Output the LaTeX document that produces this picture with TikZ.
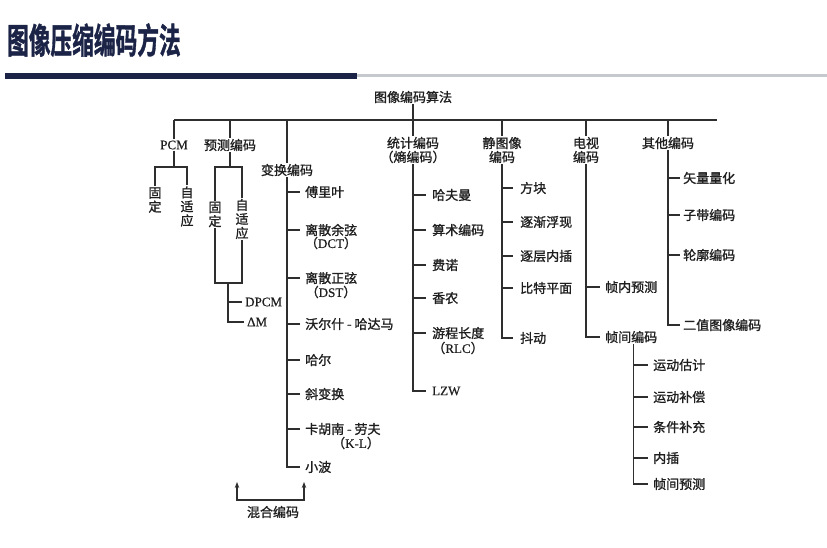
\documentclass[tikz,border=0pt]{standalone}
\usepackage{fontspec}
\usetikzlibrary{arrows.meta}
\setmainfont{Liberation Serif}[FakeBold=0.6]
\newfontfamily\cjk{Noto Sans CJK SC}[FakeBold=1.2]
\newfontfamily\titlefont{Noto Sans CJK SC Bold}[FakeBold=1.5]
\newcommand\lat[1]{{\rmfamily #1}}
\definecolor{navy}{HTML}{1B2447}
\definecolor{barg}{HTML}{C5C9CE}
\begin{document}
\begin{tikzpicture}[x=1pt,y=-1pt,
  ln/.style={line width=1.3pt, draw=black!82},
  lbl/.style={font=\cjk\fontsize{13}{14}\selectfont, text=black!88, inner sep=1pt, align=center},
  leaf/.style={lbl, anchor=west},
  tip/.style={{Stealth[length=6pt,width=4.5pt]}-{Stealth[length=6pt,width=4.5pt]}}]
\useasboundingbox (0,0) rectangle (827,548);
\fill[white] (0,0) rectangle (827,548);
% title and bar
\node[anchor=west, inner sep=0pt, font=\titlefont\fontsize{35}{38}\selectfont, text=navy, xscale=0.62] (title) at (7,40) {图像压缩编码方法};
\fill[navy] (5,73) rectangle (357,79);
\fill[barg] (357,74.5) rectangle (827,77.5);
% root and bus
\node[lbl] (root) at (413,97) {图像编码算法};
\coordinate (busL) at (174,120);
\coordinate (busR) at (717,120);
\draw[ln] (busL) -- (busR);
\node[lbl] (pcm) at (174,145) {\lat{PCM}};
\node[lbl] (pred) at (230,145) {预测编码};
\node[lbl] (trans) at (287,170) {变换编码};
\node[lbl] (stat) at (413,150) {统计编码\\（熵编码）};
\node[lbl] (still) at (502,150) {静图像\\编码};
\node[lbl] (tv) at (586,150) {电视\\编码};
\node[lbl] (other) at (668,143) {其他编码};
\draw[ln] (root) -- (stat);
\foreach \n in {pcm,pred,trans,still,tv,other} \draw[ln] (\n.north |- busL) -- (\n.north);
% PCM
\coordinate (pcmj) at (174,167);
\node[lbl] (pf) at (155,200) {固\\定};
\node[lbl] (pa) at (187,206.5) {自\\适\\应};
\draw[ln] (pcm.south) -- (pcmj);
\draw[ln] (pf.north) |- (pcmj) -| (pa.north);
% prediction
\coordinate (predj) at (230,167);
\node[lbl] (qf) at (215,214.5) {固\\定};
\node[lbl] (qa) at (242,219) {自\\适\\应};
\draw[ln] (pred.south) -- (predj);
\draw[ln] (qf.north) |- (predj) -| (qa.north);
\coordinate (predb) at (228,283);
\draw[ln] (qf.south) |- (predb) -| (qa.south);
\node[leaf] (dpcm) at (244,302) {\lat{DPCM}};
\node[leaf] (dm) at (246,322) {\lat{ΔM}};
\draw[ln] (predb) |- ([xshift=-2pt]dm.west);
\draw[ln] (predb |- dpcm.west) -- ([xshift=-2pt]dpcm.west);
% transform
\node[leaf] (t1) at (304,192) {傅里叶};
\node[leaf] (t2) at (304,230) {离散余弦};
\node[lbl] (t2b) at (331,243) {（\lat{DCT}）};
\node[leaf] (t3) at (304,278) {离散正弦};
\node[lbl] (t3b) at (331,292) {（\lat{DST}）};
\node[leaf] (t4) at (304,324) {沃尔什 - 哈达马};
\node[leaf] (t5) at (304,360) {哈尔};
\node[leaf] (t6) at (304,394) {斜变换};
\node[leaf] (t7) at (304,429) {卡胡南 - 劳夫};
\node[lbl] (t7b) at (356,443) {（\lat{K-L}）};
\node[leaf] (t8) at (304,467) {小波};
\draw[ln] (trans.south) |- ([xshift=-4pt]t8.west);
\foreach \n in {t1,t2,t3,t4,t5,t6,t7} \draw[ln] (trans.south |- \n.west) -- ([xshift=-4pt]\n.west);
% statistical
\node[leaf] (s1) at (431,195) {哈夫曼};
\node[leaf] (s2) at (431,230) {算术编码};
\node[leaf] (s3) at (431,265) {费诺};
\node[leaf] (s4) at (431,298) {香农};
\node[leaf] (s5) at (431,333) {游程长度};
\node[lbl] (s5b) at (458,348) {（\lat{RLC}）};
\node[leaf] (s6) at (431,391) {\lat{LZW}};
\draw[ln] (stat.south) |- ([xshift=-5pt]s6.west);
\foreach \n in {s1,s2,s3,s4,s5} \draw[ln] (stat.south |- \n.west) -- ([xshift=-5pt]\n.west);
% still image
\node[leaf] (j1) at (519,188) {方块};
\node[leaf] (j2) at (519,222) {逐渐浮现};
\node[leaf] (j3) at (519,256) {逐层内插};
\node[leaf] (j4) at (519,288) {比特平面};
\node[leaf] (j5) at (519,338) {抖动};
\draw[ln] (still.south) |- ([xshift=-6pt]j5.west);
\foreach \n in {j1,j2,j3,j4} \draw[ln] (still.south |- \n.west) -- ([xshift=-6pt]\n.west);
% TV
\node[leaf] (v1) at (604,287) {帧内预测};
\node[leaf] (inter) at (604,337) {帧间编码};
\draw[ln] (tv.south) |- ([xshift=-4pt]inter.west);
\draw[ln] (tv.south |- v1.west) -- ([xshift=-4pt]v1.west);
\node[leaf] (f1) at (652,365) {运动估计};
\node[leaf] (f2) at (652,397) {运动补偿};
\node[leaf] (f3) at (652,427) {条件补充};
\node[leaf] (f4) at (652,458) {内插};
\node[leaf] (f5) at (652,484) {帧间预测};
\draw[ln] ([xshift=2pt]inter.south) |- ([xshift=-4pt]f5.west);
\foreach \n in {f1,f2,f3,f4} \draw[ln] ([xshift=2pt]inter.south |- \n.west) -- ([xshift=-4pt]\n.west);
% other
\node[leaf] (o1) at (682,178) {矢量量化};
\node[leaf] (o2) at (682,215) {子带编码};
\node[leaf] (o3) at (682,255) {轮廓编码};
\node[leaf] (o4) at (682,325) {二值图像编码};
\draw[ln] (other.south) |- ([xshift=-2pt]o4.west);
\foreach \n in {o1,o2,o3} \draw[ln] (other.south |- \n.west) -- ([xshift=-2pt]\n.west);
% hybrid
\node[lbl] (mix) at (273,512) {混合编码};
\coordinate (ma) at (237,500);
\coordinate (mb) at (304,500);
\coordinate (mat) at (237,482);
\coordinate (mbt) at (304,482);
\draw[ln, tip] (mat) -- (ma) -- (mb) -- (mbt);
\end{tikzpicture}
\end{document}
